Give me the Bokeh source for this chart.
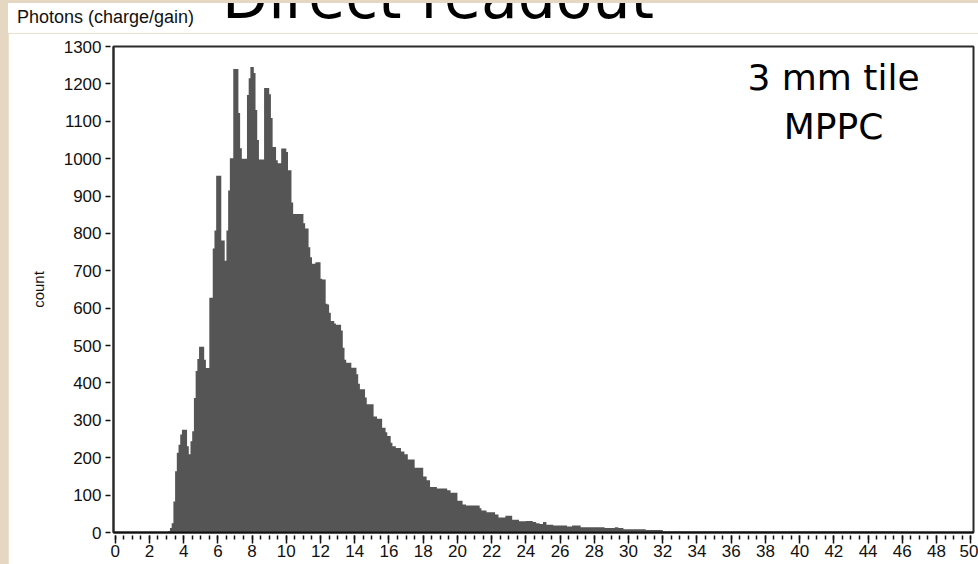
from bokeh.plotting import figure
from bokeh.models import Range1d, SingleIntervalTicker, Label, Div
from bokeh.layouts import column
from bokeh.embed import file_html
from bokeh.resources import INLINE

# Histogram steps: left edge of each step and its count
step_left = [3.1, 3.2, 3.3, 3.4, 3.5, 3.6, 3.7, 3.8, 3.9, 4.2, 4.3, 4.4, 4.5, 4.6, 4.7, 4.8, 4.9,
             5.2, 5.3, 5.5, 5.7, 5.8, 5.9, 6.2, 6.4, 6.5, 6.6, 6.7, 6.9, 7.2, 7.3, 7.4, 7.7, 7.8,
             7.9, 8.1, 8.2, 8.3, 8.4, 8.7, 9.0, 9.1, 9.2, 9.4, 9.5, 9.7, 10.0, 10.1, 10.3, 10.4,
             11.0, 11.1, 11.3, 11.4, 11.5, 11.7, 12.0, 12.1, 12.3, 12.4, 12.5, 12.6, 12.8, 12.9,
             13.2, 13.3, 13.4, 13.5, 13.8, 14.1, 14.2, 14.3, 14.6, 14.7, 15.1, 15.3, 15.6, 15.8,
             15.9, 16.1, 16.2, 16.4, 16.7, 16.9, 17.1, 17.5, 18.0, 18.2, 18.4, 18.8, 19.4, 19.6,
             20.0, 20.3, 20.5, 21.3, 21.4, 21.7, 22.2, 22.4, 22.8, 23.2, 23.6, 24.0, 24.4, 24.6,
             24.8, 25.0, 25.2, 25.6, 26.4, 26.7, 27.2, 28.6, 29.2, 29.4, 29.7, 31.0, 32.0]
last_edge = 45.7
counts = [4, 12, 25, 83, 164, 213, 235, 262, 275, 231, 209, 244, 271, 360, 432, 464, 497,
          462, 440, 628, 760, 808, 954, 781, 727, 808, 915, 1001, 1240, 1122, 1028, 1000, 1170, 1215,
          1245, 1229, 1130, 1050, 998, 1189, 1172, 1109, 1031, 996, 988, 1027, 1018, 969, 883, 852,
          827, 813, 763, 736, 719, 723, 679, 677, 612, 610, 588, 566, 559, 556,
          540, 494, 462, 454, 441, 423, 398, 383, 361, 343, 310, 304, 280, 268,
          258, 240, 231, 226, 217, 209, 195, 173, 150, 140, 122, 118, 113, 106,
          85, 75, 72, 65, 59, 54, 48, 40, 45, 34, 30, 31, 28, 25,
          23, 28, 21, 19, 16, 19, 14, 12, 14, 12, 9, 7, 3]

x_ticks_interval = 2
y_ticks_interval = 100

title_text = "Direct readout"
note_lines = ["3 mm tile", "MPPC"]
x_title = "Photons (charge/gain)"
y_title = "count"

step_x = step_left + [last_edge]
step_y = counts + [counts[-1]]

BEIGE = "#e5d7c2"

# ---- header strip with the texts that sit above the plot frame ----
header_html = (
    '<div style="position:relative;width:970px;height:30px;overflow:hidden;background:#ffffff;">'
    '<span style="position:absolute;left:9px;top:5px;font-family:\'Liberation Sans\';'
    'font-size:18px;line-height:1;color:#111111;white-space:nowrap;">' + x_title + '</span>'
    '<span style="position:absolute;left:214px;top:-36px;font-family:\'DejaVu Sans\';'
    'font-size:60px;line-height:1;color:#000000;white-space:nowrap;">' + title_text + '</span>'
    '</div>'
)
head = Div(text=header_html, width=970, height=30, margin=(3, 0, 0, 8),
           styles={"background-color": "#ffffff", "overflow": "hidden"})

# ---- main histogram ----
W, H = 970, 531
p = figure(width=W, height=H, output_backend="svg", toolbar_location=None,
           x_range=Range1d(-0.1, 50.16), y_range=Range1d(0, 1300),
           min_border_left=105, min_border_right=5, min_border_top=13, min_border_bottom=32)
p.margin = (0, 0, 0, 8)
p.background_fill_color = "white"
p.border_fill_color = "white"
p.outline_line_color = "#2b2b2b"
p.outline_line_width = 2
p.xgrid.visible = False
p.ygrid.visible = False

p.varea_step(x=step_x, y1=[0] * len(step_x), y2=step_y, step_mode="after",
             fill_color="#555555")

xa = p.xaxis[0]
xa.ticker = SingleIntervalTicker(interval=x_ticks_interval, num_minor_ticks=4)
xa.axis_line_color = "#111111"
xa.axis_line_width = 2
xa.major_tick_in = -3
xa.major_tick_out = 11
xa.minor_tick_in = -3
xa.minor_tick_out = 7
xa.major_tick_line_color = "#111111"
xa.minor_tick_line_color = "#111111"
xa.major_tick_line_width = 1.5
xa.minor_tick_line_width = 1.5
xa.major_label_text_font = "Liberation Sans"
xa.major_label_text_font_size = "17px"
xa.major_label_text_color = "#111111"
xa.major_label_standoff = 1

ya = p.yaxis[0]
ya.ticker = SingleIntervalTicker(interval=y_ticks_interval, num_minor_ticks=0)
ya.axis_line_color = "#2b2b2b"
ya.axis_line_width = 2
ya.major_tick_in = -3
ya.major_tick_out = 8
ya.minor_tick_line_color = None
ya.major_tick_line_color = "#111111"
ya.major_tick_line_width = 1.5
ya.major_label_text_font = "Liberation Sans"
ya.major_label_text_font_size = "17px"
ya.major_label_text_color = "#111111"
ya.major_label_standoff = 4
ya.axis_label = y_title
ya.axis_label_text_font = "Liberation Sans"
ya.axis_label_text_font_size = "15px"
ya.axis_label_text_font_style = "normal"
ya.axis_label_text_color = "#111111"
ya.axis_label_standoff = 14

p.add_layout(Label(x=720, y=455, x_units="screen", y_units="screen", text=note_lines[0],
                   text_font="DejaVu Sans", text_font_size="36px", text_color="black",
                   text_align="center", text_baseline="alphabetic"))
p.add_layout(Label(x=720, y=406, x_units="screen", y_units="screen", text=note_lines[1],
                   text_font="DejaVu Sans", text_font_size="36px", text_color="black",
                   text_align="center", text_baseline="alphabetic"))

layout = column(head, p, spacing=0, styles={"background-color": BEIGE})
open("out.html", "w").write(file_html(layout, INLINE))
